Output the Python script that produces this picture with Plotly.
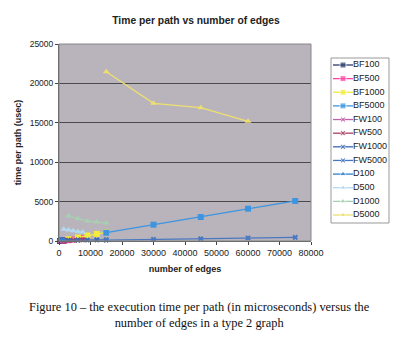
import plotly.graph_objects as go

# ---- data ----
series_names = ["BF100", "BF500", "BF1000", "BF5000",
                "FW100", "FW500", "FW1000", "FW5000",
                "D100", "D500", "D1000", "D5000"]

x100 = [300, 600, 900, 1200, 1500]
x500 = [1500, 3000, 4500, 6000, 7500]
x1000 = [3000, 6000, 9000, 12000, 15000]
x5000 = [15000, 30000, 45000, 60000, 75000]
x5000_d = [15000, 30000, 45000, 60000]

bf100 = [10, 20, 30, 45, 60]
bf500 = [50, 110, 180, 260, 350]
bf1000 = [230, 450, 700, 900, 1100]
bf5000 = [1050, 2070, 3040, 4100, 5080]
fw100 = [30, 40, 50, 60, 70]
fw500 = [60, 80, 100, 120, 140]
fw1000 = [100, 110, 130, 140, 150]
fw5000 = [120, 200, 290, 380, 460]
d100 = [150, 130, 120, 110, 100]
d500 = [1480, 1400, 1310, 1180, 1140]
d1000 = [3170, 2830, 2540, 2410, 2280]
d5000 = [21480, 17470, 16920, 15190]

x_ticks = [0, 10000, 20000, 30000, 40000, 50000, 60000, 70000, 80000]
y_ticks = [0, 5000, 10000, 15000, 20000, 25000]

# ---- styles ----
styles = {
    "BF100": ("#2b3a6b", "square"),
    "BF500": ("#ff40a0", "square"),
    "BF1000": ("#f2ec3c", "square"),
    "BF5000": ("#3c95e0", "square"),
    "FW100": ("#c060a8", "x"),
    "FW500": ("#a84060", "x"),
    "FW1000": ("#3c6ab0", "x"),
    "FW5000": ("#4a78c0", "x"),
    "D100": ("#2f7fd0", "triangle-up"),
    "D500": ("#b4d8f0", "triangle-up"),
    "D1000": ("#a8d0b0", "triangle-up"),
    "D5000": ("#eee070", "triangle-up"),
}
data = {
    "BF100": (x100, bf100), "BF500": (x500, bf500),
    "BF1000": (x1000, bf1000), "BF5000": (x5000, bf5000),
    "FW100": (x100, fw100), "FW500": (x500, fw500),
    "FW1000": (x1000, fw1000), "FW5000": (x5000, fw5000),
    "D100": (x100, d100), "D500": (x500, d500),
    "D1000": (x1000, d1000), "D5000": (x5000_d, d5000),
}

fig = go.Figure()
for name in series_names:
    xs, ys = data[name]
    col, sym = styles[name]
    fig.add_trace(go.Scatter(
        x=xs, y=ys, mode="lines+markers", name=name,
        line=dict(color=col, width=1.3),
        marker=dict(color=col, symbol=sym, size=6 if sym != "x" else 5),
        cliponaxis=False, showlegend=False))

# ---- manual compact legend on its own axes ----
n = len(series_names)
for i, name in enumerate(series_names):
    col, sym = styles[name]
    fig.add_trace(go.Scatter(
        x=[2, 12, 22], y=[i, i, i], xaxis="x2", yaxis="y2",
        mode="lines+markers+text", text=["", "", name],
        textposition="middle right",
        textfont=dict(family="Arial", size=9, color="#222"),
        line=dict(color=col, width=1.3),
        marker=dict(color=col, symbol=sym, size=[0, 6 if sym != "x" else 5, 0]),
        cliponaxis=False, showlegend=False, hoverinfo="skip"))

W, H = 400, 340
L, R, T, B = 59, 10, 44, 99
pw = W - L - R
ph = H - T - B


def px_x(v):
    return (v - L) / pw


def px_y(v):
    return (H - B - v) / ph


fig.update_layout(
    width=W, height=H,
    margin=dict(l=L, r=R, t=T, b=B, autoexpand=False),
    paper_bgcolor="white", plot_bgcolor="white",
    font=dict(family="Arial", size=9, color="#222"),
    title=dict(text="<b>Time per path vs number of edges</b>",
               x=196 / W, xanchor="center", y=1 - 20 / H, yanchor="middle",
               font=dict(size=10.3, color="#222")),
    xaxis=dict(domain=[0, px_x(311)], range=[0, 80000], tickvals=x_ticks,
               ticktext=[str(v) for v in x_ticks], ticks="outside", ticklen=3,
               showgrid=False, zeroline=False, showline=True, automargin=False,
               linecolor="#555", linewidth=1,
               title=dict(text="<b>number of edges</b>", font=dict(size=9), standoff=8),
               tickfont=dict(size=9)),
    yaxis=dict(domain=[0, 1], range=[0, 25000], tickvals=y_ticks,
               ticktext=[str(v) for v in y_ticks], ticks="outside", ticklen=3,
               showgrid=True, gridcolor="#4a4a4a", gridwidth=1, automargin=False,
               zeroline=False, showline=True, linecolor="#555", linewidth=1,
               title=dict(text="<b>time per path (usec)</b>", font=dict(size=9), standoff=6),
               tickfont=dict(size=8.5)),
    xaxis2=dict(domain=[px_x(331), px_x(389)], range=[0, 58], visible=False,
                anchor="y2", fixedrange=True, automargin=False),
    yaxis2=dict(domain=[px_y(223), px_y(58)],
                range=[n - 1 + 0.587, -0.513], visible=False,
                anchor="x2", fixedrange=True, automargin=False),
    shapes=[
        dict(type="rect", xref="x domain", yref="y domain", x0=0, x1=1, y0=0, y1=1,
             fillcolor="#b9b3bc", line=dict(width=0), layer="below"),
        dict(type="rect", xref="x domain", yref="y domain", x0=0, x1=1, y0=0, y1=1,
             line=dict(color="#888", width=1), layer="above"),
        dict(type="rect", xref="paper", yref="paper",
             x0=px_x(331), x1=px_x(389), y0=px_y(223), y1=px_y(58),
             line=dict(color="#999", width=1), fillcolor="white", layer="below"),
    ],
    annotations=[
        dict(text="Figure 10 \u2013 the execution time per path (in microseconds) versus the<br>"
                  "number of edges in a type 2 graph",
             xref="paper", yref="paper",
             x=px_x(199), y=px_y(315),
             xanchor="center", yanchor="middle", showarrow=False, align="center",
             font=dict(family="Liberation Serif", size=12.4, color="#111")),
    ],
)

fig.write_html("out.html")
